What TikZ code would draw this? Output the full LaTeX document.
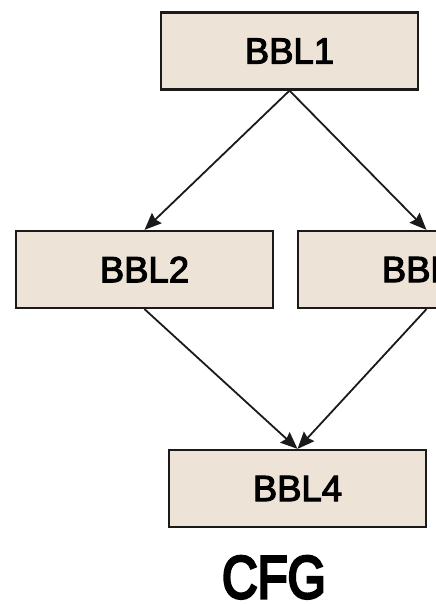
\documentclass[tikz,border=0pt]{standalone}
\usepackage{fontspec}
\setmainfont{Liberation Sans}
\newfontfamily\labelfont{Liberation Sans}[FakeBold=3]
\newfontfamily\titlefont{Liberation Sans}[FakeBold=5]
\usetikzlibrary{arrows.meta}
\definecolor{blockfill}{HTML}{EDE3D6}
\definecolor{blockedge}{HTML}{1A1A1A}
\tikzset{
  block/.style={draw=blockedge, line width=2.2pt, fill=blockfill,
    minimum width=257pt, minimum height=77pt, inner sep=0pt,
    font=\labelfont\fontsize{36.5}{40}\selectfont},
  flow/.style={draw=blockedge, line width=1.8pt,
    -{Stealth[length=17pt,width=14pt,inset=2pt]}}
}
\begin{document}
\begin{tikzpicture}[x=1pt,y=-1pt]
  \useasboundingbox (0,0) rectangle (436,606);
  \clip (0,0) rectangle (436,606);
  \node[block] (b1) at (289.5,51) {BBL1};
  \node[block] (b2) at (144.5,269.5) {BBL2};
  \node[block] (b3) at (426.5,269.5) {BBL3};
  \node[block] (b4) at (297.5,488.5) {BBL4};
  \node[font=\titlefont\fontsize{60}{66}\selectfont, inner sep=0pt, anchor=base]
    (cap) at (274,598) {\scalebox{0.82}[1]{CFG}};
  \draw[flow] (b1.south) -- (b2.north);
  \draw[flow] (b1.south) -- (b3.north);
  \draw[flow] (b2.south) -- (b4.north);
  \draw[flow] (b3.south) -- (b4.north);
\end{tikzpicture}
\end{document}
